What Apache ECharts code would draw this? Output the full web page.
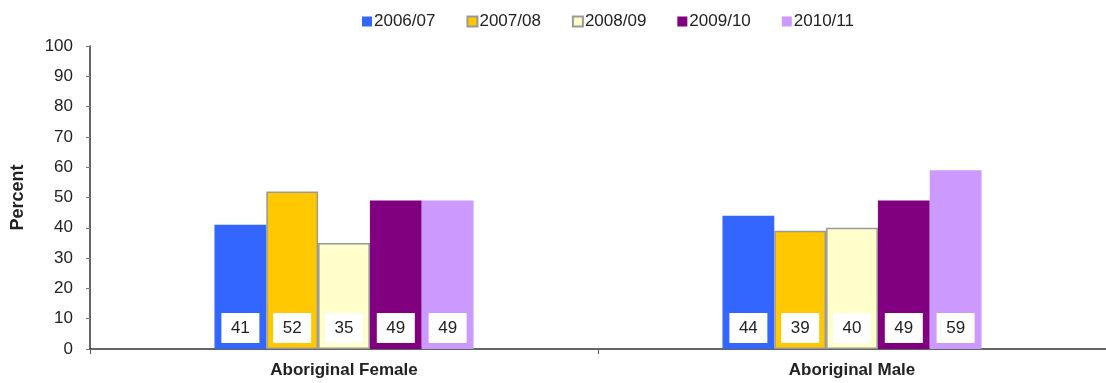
<!DOCTYPE html>
<html>
<head>
<meta charset="utf-8">
<script src="https://cdn.jsdelivr.net/npm/echarts@6/dist/echarts.min.js"></script>
<style>
  html, body { margin: 0; padding: 0; background: #fff; }
  #chart { width: 1106px; height: 383px; }
</style>
</head>
<body>
<div id="chart"></div>
<script>
// Categories and yearly values (percent)
const categories = ['Aboriginal Female', 'Aboriginal Male'];
const years = ['2006/07', '2007/08', '2008/09', '2009/10', '2010/11'];
const v2006 = [41, 44];
const v2007 = [52, 39];
const v2008 = [35, 40];
const v2009 = [49, 49];
const v2010 = [49, 59];
const seriesValues = [v2006, v2007, v2008, v2009, v2010];
const yTicks = [0, 10, 20, 30, 40, 50, 60, 70, 80, 90, 100];

const fills = ['#3366FF', '#FFC800', '#FFFFCC', '#800080', '#CC99FF'];
const borders = [null, '#999999', '#999999', null, null];

const font = 'Liberation Sans, Arial, sans-serif';

const chart = echarts.init(document.getElementById('chart'), null, { renderer: 'canvas' });

const series = years.map((name, i) => ({
  name: name,
  type: 'bar',
  data: seriesValues[i],
  barGap: 0,
  barCategoryGap: '49%',
  itemStyle: {
    color: fills[i],
    borderColor: borders[i] || fills[i],
    borderWidth: borders[i] ? 1.5 : 0
  },
  label: {
    show: true,
    position: 'insideBottom',
    distance: 6,
    backgroundColor: '#ffffff',
    color: '#222',
    fontFamily: font,
    fontSize: 17,
    lineHeight: 17,
    width: 28,
    align: 'center',
    padding: [7, 5, 6, 5],
    formatter: '{c}'
  },
  emphasis: { disabled: true }
}));

chart.setOption({
  animation: false,
  legend: {
    data: years,
    top: 8,
    left: 357,
    itemWidth: 10,
    itemHeight: 10,
    itemGap: 31,
    icon: 'rect',
    textStyle: { fontFamily: font, fontSize: 17, color: '#222', padding: [0, 0, 0, -3] }
  },
  grid: { left: 90, right: -4, top: 46, bottom: 34, containLabel: false },
  xAxis: {
    type: 'category',
    data: categories,
    axisLine: { lineStyle: { color: '#333', width: 1.5 } },
    axisTick: { show: true, length: 5, lineStyle: { color: '#555' } },
    axisLabel: { fontFamily: font, fontSize: 17, fontWeight: 'bold', color: '#222', margin: 13 }
  },
  yAxis: {
    type: 'value',
    min: yTicks[0],
    max: yTicks[yTicks.length - 1],
    interval: 10,
    name: 'Percent',
    nameLocation: 'middle',
    nameGap: 63,
    nameRotate: 90,
    nameTextStyle: { fontFamily: font, fontSize: 18, fontWeight: 'bold', color: '#222' },
    axisLine: { show: true, lineStyle: { color: '#333', width: 1.5 } },
    axisTick: { show: true, length: 4, lineStyle: { color: '#777' } },
    axisLabel: { fontFamily: font, fontSize: 17, color: '#222', margin: 17 },
    splitLine: { show: false }
  },
  series: series
});
</script>
</body>
</html>
